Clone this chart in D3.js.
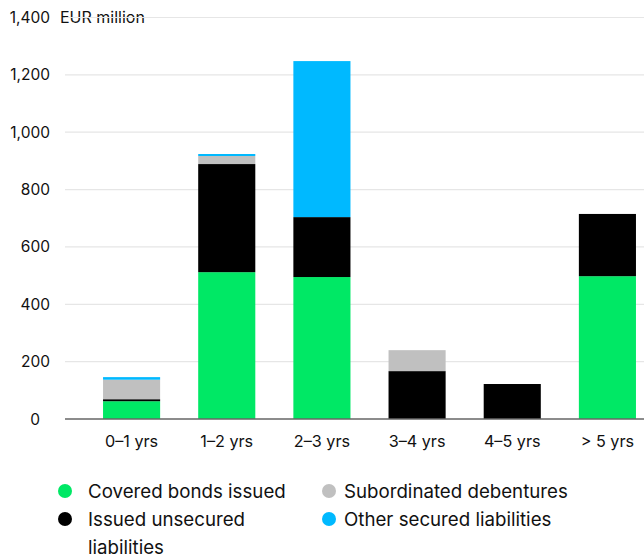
<!DOCTYPE html>
<html>
<head>
<meta charset="utf-8">
<script src="https://cdn.jsdelivr.net/npm/d3@7"></script>
<style>
  html, body { margin: 0; padding: 0; background: #fff; }
  svg { display: block; font-family: Inter, "Noto Sans", sans-serif; }
</style>
</head>
<body>
<svg id="chart" width="644" height="559"></svg>
<script>
// Maturity buckets
const categories = ["0–1 yrs", "1–2 yrs", "2–3 yrs", "3–4 yrs", "4–5 yrs", "> 5 yrs"];

// Series values, EUR million
const coveredBonds      = [62, 512, 495, 0, 0, 498];
const unsecured         = [7, 377, 209, 167, 122, 217];
const subordinated      = [68, 28, 0, 73, 0, 0];
const otherSecured      = [9, 7, 544, 0, 0, 0];

const yTicks = [0, 200, 400, 600, 800, 1000, 1200, 1400];

const seriesNames  = ["Covered bonds issued", "Issued unsecured liabilities", "Subordinated debentures", "Other secured liabilities"];
const seriesColors = ["#00e865", "#000000", "#c0c0c0", "#00b9ff"];

const rows = categories.map((c, i) => ({
  cat: c,
  covered: coveredBonds[i],
  unsecured: unsecured[i],
  subordinated: subordinated[i],
  other: otherSecured[i]
}));
const keys = ["covered", "unsecured", "subordinated", "other"];

const svg = d3.select("#chart");

const y = d3.scaleLinear().domain([0, 1400]).range([419, 17.5]);
const x = d3.scaleBand().domain(categories).range([84, 655]).paddingInner(0.4).paddingOuter(0.2);

// axis title sits under the top gridline
svg.append("text")
  .attr("x", 60).attr("y", 23)
  .attr("font-size", 16).attr("fill", "#111")
  .text("EUR million");

// y tick labels
svg.append("g").selectAll("text").data(yTicks).join("text")
  .attr("x", d => d === 0 ? 40 : 50).attr("y", d => y(d) + 5.5)
  .attr("text-anchor", "end")
  .attr("font-size", 15.5).attr("fill", "#111")
  .text(d => d3.format(",")(d));

// gridlines
svg.append("g").selectAll("line").data(yTicks.filter(d => d > 0)).join("line")
  .attr("x1", 65).attr("x2", 644)
  .attr("y1", d => y(d)).attr("y2", d => y(d))
  .attr("stroke", "#e6e6e6").attr("stroke-width", 1.2);

// stacked bars
const stacked = d3.stack().keys(keys)(rows);
svg.append("g").selectAll("g").data(stacked).join("g")
  .attr("fill", (d, i) => seriesColors[i])
  .selectAll("rect").data(d => d).join("rect")
  .attr("x", d => x(d.data.cat))
  .attr("width", x.bandwidth())
  .attr("y", d => y(d[1]))
  .attr("height", d => y(d[0]) - y(d[1]));

// baseline
svg.append("line")
  .attr("x1", 65).attr("x2", 644)
  .attr("y1", y(0)).attr("y2", y(0))
  .attr("stroke", "#666").attr("stroke-width", 1.3);

// x labels
svg.append("g").selectAll("text").data(categories).join("text")
  .attr("x", d => x(d) + x.bandwidth() / 2).attr("y", 447)
  .attr("text-anchor", "middle")
  .attr("font-size", 16.2).attr("fill", "#111")
  .text(d => d);

// legend
const legendItems = [
  { name: seriesNames[0], color: seriesColors[0], cx: 65, tx: 88, cy: 491, lines: ["Covered bonds issued"] },
  { name: seriesNames[1], color: seriesColors[1], cx: 65, tx: 88, cy: 519, lines: ["Issued unsecured", "liabilities"] },
  { name: seriesNames[2], color: seriesColors[2], cx: 329, tx: 344, cy: 491, lines: ["Subordinated debentures"] },
  { name: seriesNames[3], color: seriesColors[3], cx: 329, tx: 344, cy: 519, lines: ["Other secured liabilities"] }
];
const lg = svg.append("g").selectAll("g").data(legendItems).join("g");
lg.append("circle")
  .attr("cx", d => d.cx).attr("cy", d => d.cy).attr("r", 7)
  .attr("fill", d => d.color);
lg.append("text")
  .attr("font-size", 18.7).attr("fill", "#111")
  .each(function(d) {
    d3.select(this).selectAll("tspan").data(d.lines).join("tspan")
      .attr("x", d.tx).attr("y", (l, i) => d.cy + 7 + i * 27.5)
      .text(l => l);
  });
</script>
</body>
</html>
